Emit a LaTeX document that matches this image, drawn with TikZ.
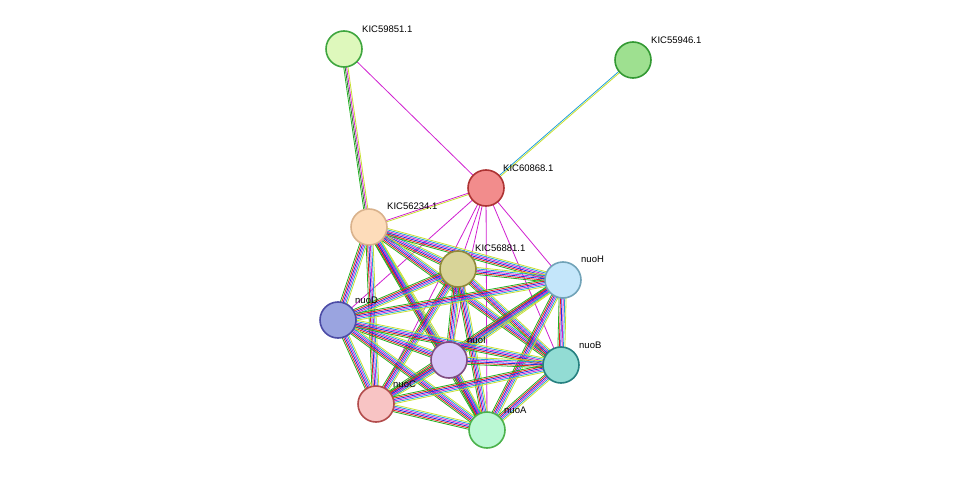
\documentclass[tikz,border=0pt]{standalone}
\usepackage{fontspec}
\setsansfont{Liberation Sans}
\usetikzlibrary{calc,backgrounds}

\definecolor{cgreen}{HTML}{22B022}
\definecolor{cred}{HTML}{E02020}
\definecolor{cblue}{HTML}{2030E0}
\definecolor{cmag}{HTML}{D020D0}
\definecolor{ccyan}{HTML}{20A0D8}
\definecolor{cyel}{HTML}{C8E030}
\definecolor{cdark}{HTML}{2A7A2A}

\tikzset{
  prot/.style={circle, draw, line width=1.6pt, minimum size=36pt, inner sep=0pt},
  lbl/.style={font=\sffamily\fontsize{9.5}{11}\selectfont, anchor=south west, inner sep=1pt},
}

% parallel coloured lines between two nodes (#3 = offset of the first line)
\newcommand\links[4]{%
  \foreach \c [count=\i] in {#4} {%
    \pgfmathsetmacro\o{(\i-1)*1.4+#3}%
    \draw[\c, line width=0.8pt] ($(#1.center)!\o pt!90:(#2.center)$) -- ($(#2.center)!\o pt!-90:(#1.center)$);
  }}

\begin{document}
\begin{tikzpicture}[x=1pt,y=-1pt]
  \useasboundingbox (0,0) rectangle (976,476);

  \node[prot, draw=green!45!gray!90!black, fill={rgb,255:red,222;green,248;blue,188}] (k59) at (344,49) {};
  \node[prot, draw=green!50!black!80, fill={rgb,255:red,158;green,224;blue,144}] (k55) at (633,60) {};
  \node[prot, draw=red!60!black!80, fill={rgb,255:red,242;green,140;blue,140}] (k60) at (486,188) {};
  \node[prot, draw=brown!60!white, fill={rgb,255:red,253;green,220;blue,186}] (k56) at (369,227) {};
  \node[prot, draw=olive!60!gray, fill={rgb,255:red,216;green,212;blue,152}] (k81) at (458,269) {};
  \node[prot, draw=cyan!40!gray, fill={rgb,255:red,196;green,230;blue,250}] (nuoH) at (563,280) {};
  \node[prot, draw=blue!50!black!70, fill={rgb,255:red,154;green,164;blue,224}] (nuoD) at (338,320) {};
  \node[prot, draw=violet!40!gray, fill={rgb,255:red,216;green,200;blue,248}] (nuoI) at (449,360) {};
  \node[prot, draw=teal!70!gray, fill={rgb,255:red,146;green,220;blue,212}] (nuoB) at (561,365) {};
  \node[prot, draw=red!40!gray, fill={rgb,255:red,248;green,196;blue,196}] (nuoC) at (376,404) {};
  \node[prot, draw=green!40!gray, fill={rgb,255:red,186;green,248;blue,212}] (nuoA) at (487,430) {};

  \node[lbl] at (361,34) {KIC59851.1};
  \node[lbl] at (650,45) {KIC55946.1};
  \node[lbl] at (502,173) {KIC60868.1};
  \node[lbl] at (386,211) {KIC56234.1};
  \node[lbl] at (474,253) {KIC56881.1};
  \node[lbl] at (580,264) {nuoH};
  \node[lbl] at (354,305) {nuoD};
  \node[lbl] at (466,345) {nuoI};
  \node[lbl] at (578,350) {nuoB};
  \node[lbl] at (392,389) {nuoC};
  \node[lbl] at (503,415) {nuoA};

  \begin{pgfonlayer}{background}
    \links{k59}{k60}{0}{cmag}
    \links{k59}{k56}{-2.8}{cgreen,cdark,cmag,cyel}
    \links{k55}{k60}{-0.7}{ccyan,cyel}
    \links{k60}{k56}{-0.7}{cmag,cyel}
    \foreach \t in {k81,nuoH,nuoD,nuoI,nuoB,nuoC,nuoA}
      \links{k60}{\t}{0}{cmag};
    \foreach \a/\b in {k56/k81,k56/nuoH,k56/nuoD,k56/nuoI,k56/nuoB,k56/nuoC,k56/nuoA,
                       k81/nuoH,k81/nuoD,k81/nuoI,k81/nuoB,k81/nuoC,k81/nuoA,
                       nuoH/nuoD,nuoH/nuoI,nuoH/nuoB,nuoH/nuoC,nuoH/nuoA,
                       nuoD/nuoI,nuoD/nuoB,nuoD/nuoC,nuoD/nuoA,
                       nuoI/nuoB,nuoI/nuoC,nuoI/nuoA,
                       nuoB/nuoC,nuoB/nuoA,nuoC/nuoA}
      \links{\a}{\b}{-3.5}{cgreen,cred,cblue,cmag,ccyan,cyel};
  \end{pgfonlayer}
\end{tikzpicture}
\end{document}
